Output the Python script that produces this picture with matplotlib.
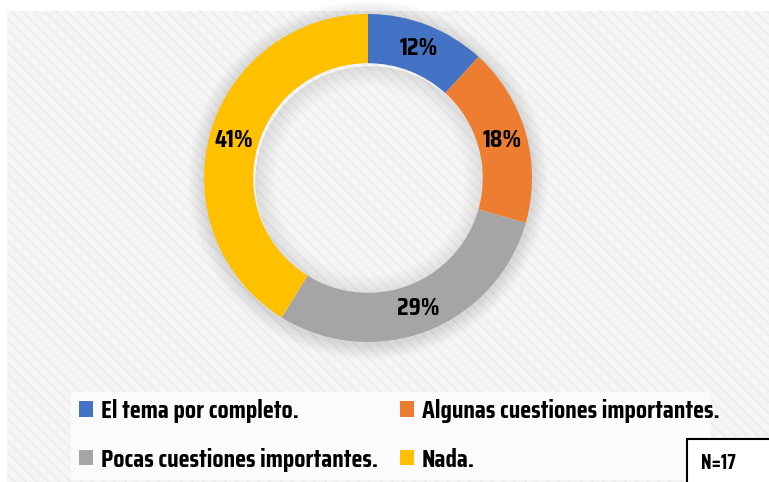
import matplotlib
matplotlib.use("Agg")
import matplotlib.pyplot as plt
from matplotlib.patches import Rectangle, Wedge

labels = ["El tema por completo.", "Algunas cuestiones importantes.",
          "Pocas cuestiones importantes.", "Nada."]
counts = [2, 3, 5, 7]
colors = ["#4472C4", "#ED7D31", "#A5A5A5", "#FFC000"]
n_total = 17

FONT = ["Saira Condensed", "Liberation Sans Narrow", "DejaVu Sans"]

plt.rcParams["hatch.linewidth"] = 1.0
fig = plt.figure(figsize=(7.69, 4.82), dpi=100)
ax = fig.add_axes([0, 0, 1, 1])

# striped chart area
ax.add_patch(Rectangle((7, 0), 762, 471, facecolor="#f5f5f5", edgecolor="#ebebeb",
                       hatch="\\\\\\", lw=0, zorder=0))

cx, cy, r = 368, 304, 164
# soft shadow around the ring
for i in range(10):
    ax.add_patch(Wedge((cx, cy - 2), r + 2 + i * 1.5, 0, 360, width=3 + i * 3,
                       facecolor="#000000", alpha=0.012, lw=0, zorder=1))
# shadow inside the hole
for i in range(8):
    ax.add_patch(Wedge((cx + 2, cy - 3), r * 0.70, 0, 360, width=2 + i * 2.5,
                       facecolor="#000000", alpha=0.012, lw=0, zorder=1))

wedges, _, pct = ax.pie(counts, colors=colors, radius=r, center=(cx, cy),
                        startangle=90, counterclock=False,
                        wedgeprops=dict(width=r * 0.30, lw=0),
                        autopct=lambda p: f"{p:.0f}%", pctdistance=0.85,
                        frame=True)
for w in wedges:
    w.set_zorder(3)
for t in pct:
    t.set_fontsize(18.5)
    t.set_fontweight("bold")
    t.set_family(FONT)
    t.set_zorder(4)
ax.set_xlim(0, 769)
ax.set_ylim(0, 482)
ax.set_aspect("equal")
ax.axis("off")

# legend, filled row by row like the reference
ax.add_patch(Rectangle((71, 2), 640, 88, facecolor="#fbfbfb", lw=0, zorder=1))
order = [0, 2, 1, 3]
leg = ax.legend([wedges[i] for i in order], [labels[i] for i in order], ncol=2,
                loc="center left", bbox_to_anchor=(56 / 769, 46.5 / 482), frameon=False,
                prop=dict(family=FONT, weight="bold", size=18.5),
                handlelength=0.55, handleheight=0.55, handletextpad=0.3,
                columnspacing=0.85, labelspacing=0.95)

# sample size box
ax.add_patch(Rectangle((687, -5), 100, 48, facecolor="white", edgecolor="black",
                       lw=1.5, zorder=5))
ax.text(718, 19, f"N={n_total}", fontsize=14.5, fontweight="bold", family=FONT,
        ha="center", va="center", zorder=6)

fig.savefig("out.png", dpi=100)
